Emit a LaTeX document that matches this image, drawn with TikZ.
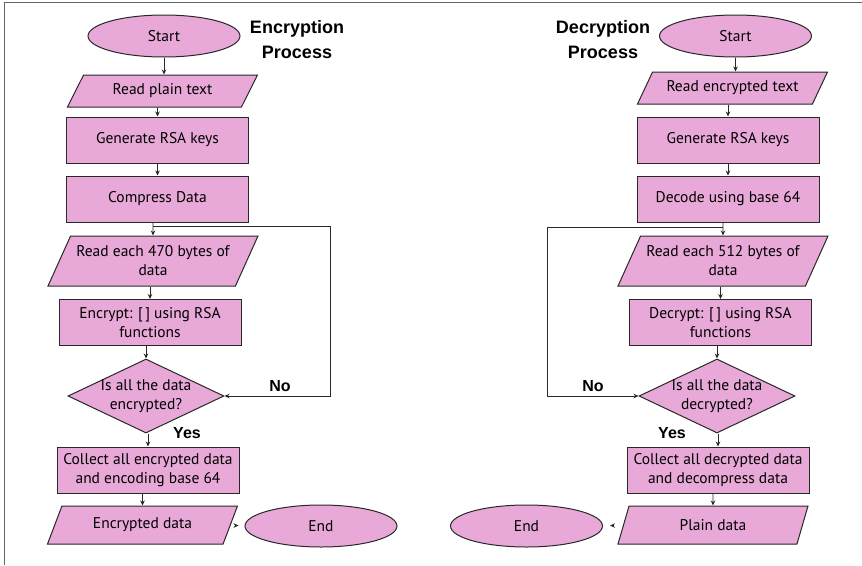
\documentclass[tikz,border=0pt]{standalone}
\usepackage{fontspec}
\setmainfont{PT Sans}
\newfontfamily\titlefont{Liberation Sans}
\usetikzlibrary{shapes.geometric,arrows.meta,positioning}
\definecolor{flowpink}{RGB}{232,169,216}
\definecolor{flowline}{RGB}{40,40,40}
\tikzset{
  base/.style={draw=flowline,fill=flowpink,line width=1pt,align=center,inner sep=1pt,font=\fontsize{15.5}{19}\selectfont},
  term/.style={base,ellipse,minimum width=152pt,minimum height=42pt},
  proc/.style={base,rectangle,minimum width=182pt,minimum height=46pt},
  io/.style={base,trapezium,trapezium stretches body,trapezium left angle=#1,trapezium right angle=180-#1,minimum height=32pt,minimum width=190pt},
  io/.default=50,
  decision/.style={base,diamond,aspect=2.1,minimum width=156pt,minimum height=74pt,inner sep=-4pt},
  flow/.style={draw=flowline,line width=0.8pt,-{Stealth[length=5pt,width=4.5pt]}},
  heading/.style={font=\titlefont\fontsize{18}{25}\selectfont\bfseries,align=center},
  answer/.style={font=\titlefont\fontsize{16}{18}\selectfont\bfseries}
}

\begin{document}
\begin{tikzpicture}[x=1pt,y=-1pt]
	\useasboundingbox (0,0) rectangle (862,565);
	\draw[line width=1.5pt,draw=gray!80!black] (862,2.5) -- (4.5,2.5) -- (4.5,565);
	
	% encryption
	\node[heading] (t1) at (297,40) {Encryption\\Process};
	\node[term] (e1) at (164,36) {Start};
	\node[io=45] (e2) at (162.5,91) {Read plain text};
	\node[proc] (e3) at (157.5,140) {Generate RSA keys};
	\node[proc] (e4) at (157.5,199) {Compress Data};
	\node[io=55,minimum height=50pt,minimum width=210pt] (e5) at (153,261) {Read each 470 bytes of\\data};
	\node[proc] (e6) at (150,322.5) {Encrypt: [\,] using RSA\\functions};
	\node[decision] (e7) at (146,396) {Is all the data\\encrypted?};
	\node[proc] (e8) at (148,470) {Collect all encrypted data\\and encoding base 64};
	\node[io=48,minimum height=38pt] (e9) at (142.5,525) {Encrypted data};
	\node[term] (e10) at (321,526) {End};
	\node[answer] (n1) at (280,386) {No};
	\node[answer] (y1) at (187,433) {Yes};
	\coordinate (c1) at (330,226);
	
	\draw[flow] (e1) -- (e1 |- e2.north);
	\draw[flow] (e3 |- e2.south) -- (e3);
	\draw[flow] (e4 |- e3.south) -- (e4);
	\draw[flow] (e5 |- e4.south) -- (e5);
	\draw[flow] (e6 |- e5.south) -- (e6);
	\draw[flow] (e7 |- e6.south) -- (e7);
	\draw[flow] (e8 |- e7.south) -- (e8);
	\draw[flow] (e9 |- e8.south) -- (e9);
	\draw[flow,shorten <=5pt,shorten >=6pt] (e9) -- (e10);
	\draw[flow] (e5 |- c1) -- (c1) |- (e7);
	
	% decryption
	\node[heading] (t2) at (603,40) {Decryption\\Process};
	\node[term] (d1) at (735.5,36) {Start};
	\node[io=47] (d2) at (732.5,88) {Read encrypted text};
	\node[proc] (d3) at (728,140) {Generate RSA keys};
	\node[proc] (d4) at (728,199) {Decode using base 64};
	\node[io=55,minimum height=50pt,minimum width=210pt] (d5) at (723,261) {Read each 512 bytes of\\data};
	\node[proc] (d6) at (720.5,322.5) {Decrypt: [\,] using RSA\\functions};
	\node[decision] (d7) at (717,396) {Is all the data\\decrypted?};
	\node[proc] (d8) at (718,470) {Collect all decrypted data\\and decompress data};
	\node[io=50,minimum height=38pt] (d9) at (713,525) {Plain data};
	\node[term] (d10) at (526.5,526) {End};
	\node[answer] (n2) at (593,386) {No};
	\node[answer] (y2) at (672,433) {Yes};
	\coordinate (c2) at (547,227);
	
	\draw[flow] (d1) -- (d1 |- d2.north);
	\draw[flow] (d3 |- d2.south) -- (d3);
	\draw[flow] (d4 |- d3.south) -- (d4);
	\draw[flow] (d5 |- d4.south) -- (d5);
	\draw[flow] (d6 |- d5.south) -- (d6);
	\draw[flow] (d7 |- d6.south) -- (d7);
	\draw[flow] (d8 |- d7.south) -- (d8);
	\draw[flow] (d9 |- d8.south) -- (d9);
	\draw[flow,shorten <=9pt,shorten >=7pt] (d9) -- (d10);
	\draw[flow] (d5 |- c2) -- (c2) |- (d7);
\end{tikzpicture}
\end{document}
